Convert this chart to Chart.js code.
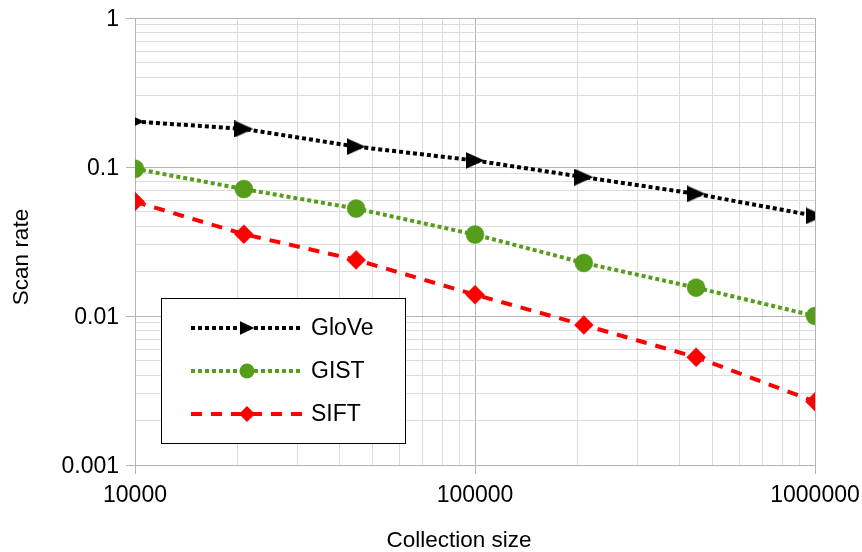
<!DOCTYPE html>
<html>
<head>
<meta charset="utf-8">
<script src="https://cdn.jsdelivr.net/npm/chart.js@4.4.1/dist/chart.umd.min.js"></script>
<style>
  html, body { margin: 0; padding: 0; background: #ffffff; }
  #wrap { width: 862px; height: 552px; }
</style>
</head>
<body>
<div id="wrap"><canvas id="c" width="862" height="552"></canvas></div>
<script>
// Collection sizes (x) and measured scan rates (y) per descriptor set
const collectionSizes = [10000, 20900, 44700, 100000, 209000, 447000, 1000000];
const gloveRates = [0.202, 0.180, 0.137, 0.1106, 0.0855, 0.066, 0.047];
const gistRates  = [0.0973, 0.0711, 0.0526, 0.0352, 0.0227, 0.0155, 0.0100];
const siftRates  = [0.0586, 0.0354, 0.0238, 0.0139, 0.0087, 0.00529, 0.00266];

const seriesNames = ['GloVe', 'GIST', 'SIFT'];
const xTickLabels = ['10000', '100000', '1000000'];
const yTickLabels = ['0.001', '0.01', '0.1', '1'];
const xTitle = 'Collection size';
const yTitle = 'Scan rate';

const FONT = '"Liberation Sans", Arial, sans-serif';
const TICK_SIZE = 23;
const TITLE_SIZE = 22.5;

function toPoints(ys) {
  return collectionSizes.map((x, i) => ({ x: x, y: ys[i] }));
}

function isDecade(v) {
  const l = Math.log10(v);
  return Math.abs(l - Math.round(l)) < 1e-9;
}

// Right-pointing triangle marker, centred in its own small canvas
function triangleMarker(w, h, color) {
  const cv = document.createElement('canvas');
  cv.width = w;
  cv.height = h;
  const g = cv.getContext('2d');
  g.fillStyle = color;
  g.beginPath();
  g.moveTo(0, 0);
  g.lineTo(w, h / 2);
  g.lineTo(0, h);
  g.closePath();
  g.fill();
  return cv;
}

// 1..9 × each decade between min and max, for the log grid
function logGridTicks(scale) {
  const lo = Math.round(Math.log10(scale.min));
  const hi = Math.round(Math.log10(scale.max));
  const ticks = [];
  for (let d = lo; d < hi; d++) {
    for (let m = 1; m <= 9; m++) ticks.push({ value: m * Math.pow(10, d) });
  }
  ticks.push({ value: Math.pow(10, hi) });
  scale.ticks = ticks;
}

function labelFor(list) {
  return function (value) {
    const hit = list.find(s => Math.abs(Number(s) - value) / value < 1e-9);
    return hit === undefined ? '' : hit;
  };
}

const gridOpts = {
  color: c => (c.tick && isDecade(c.tick.value)) ? '#b3b3b3' : '#dddddd',
  tickColor: c => (c.tick && isDecade(c.tick.value)) ? '#b3b3b3' : 'rgba(0,0,0,0)',
  tickLength: 9,
  lineWidth: 1,
  drawTicks: true
};

const legendMarkers = [
  { pointStyle: triangleMarker(15, 14, '#000000'), radius: 7 },
  { pointStyle: 'circle', radius: 7.5 },
  { pointStyle: 'rectRot', radius: 8 }
];

// Axis titles and the boxed legend (line sample + marker + name)
const chartDecor = {
  id: 'chartDecor',
  afterDraw(chart) {
    const ctx = chart.ctx;
    ctx.save();
    ctx.fillStyle = '#000000';
    ctx.font = TITLE_SIZE + 'px ' + FONT;
    ctx.textAlign = 'center';
    ctx.textBaseline = 'middle';
    ctx.fillText(xTitle, 459, 541);
    ctx.translate(22, 257);
    ctx.rotate(-Math.PI / 2);
    ctx.fillText(yTitle, 0, 0);
    ctx.restore();
  },
  afterDatasetsDraw(chart) {
    const ctx = chart.ctx;
    const box = { x: 161.5, y: 298.5, w: 244, h: 145 };
    const rowsY = [328, 371, 414];
    ctx.save();
    ctx.fillStyle = '#ffffff';
    ctx.fillRect(box.x, box.y, box.w, box.h);
    ctx.strokeStyle = '#000000';
    ctx.lineWidth = 1;
    ctx.setLineDash([]);
    ctx.strokeRect(box.x, box.y, box.w, box.h);
    chart.data.datasets.forEach((ds, i) => {
      const y = rowsY[i];
      ctx.beginPath();
      ctx.strokeStyle = ds.borderColor;
      ctx.lineWidth = ds.borderWidth;
      ctx.lineCap = 'butt';
      ctx.setLineDash(ds.borderDash || []);
      ctx.moveTo(191, y);
      ctx.lineTo(302, y);
      ctx.stroke();
      ctx.setLineDash([]);
      ctx.fillStyle = ds.pointBackgroundColor;
      ctx.strokeStyle = ds.pointBorderColor;
      Chart.helpers.drawPoint(ctx, {
        pointStyle: legendMarkers[i].pointStyle,
        radius: legendMarkers[i].radius,
        rotation: 0,
        borderWidth: 0
      }, 247, y);
      ctx.fillStyle = '#000000';
      ctx.font = TICK_SIZE + 'px ' + FONT;
      ctx.textAlign = 'left';
      ctx.textBaseline = 'middle';
      ctx.fillText(ds.label, 311, y + 1);
    });
    ctx.restore();
  }
};

new Chart(document.getElementById('c'), {
  type: 'line',
  data: {
    datasets: [
      {
        label: seriesNames[0],
        data: toPoints(gloveRates),
        borderColor: '#000000',
        backgroundColor: '#000000',
        borderWidth: 4,
        borderDash: [4, 3],
        borderCapStyle: 'butt',
        pointStyle: triangleMarker(19, 17, '#000000'),
        pointRadius: 10,
        pointBackgroundColor: '#000000',
        pointBorderColor: '#000000',
        pointBorderWidth: 0
      },
      {
        label: seriesNames[1],
        data: toPoints(gistRates),
        borderColor: '#579d1c',
        backgroundColor: '#579d1c',
        borderWidth: 4,
        borderDash: [4, 3],
        borderCapStyle: 'butt',
        pointStyle: 'circle',
        pointRadius: 9,
        pointBackgroundColor: '#579d1c',
        pointBorderColor: '#579d1c',
        pointBorderWidth: 0.5
      },
      {
        label: seriesNames[2],
        data: toPoints(siftRates),
        borderColor: '#ff0000',
        backgroundColor: '#ff0000',
        borderWidth: 4,
        borderDash: [11, 9],
        borderCapStyle: 'butt',
        pointStyle: 'rectRot',
        pointRadius: 9.5,
        pointBackgroundColor: '#ff0000',
        pointBorderColor: '#ff0000',
        pointBorderWidth: 0.5
      }
    ]
  },
  options: {
    responsive: false,
    animation: false,
    devicePixelRatio: 1,
    layout: { padding: { left: 0, right: 47, top: 18, bottom: 0 } },
    elements: { line: { tension: 0, fill: false } },
    plugins: { legend: { display: false }, tooltip: { enabled: false } },
    scales: {
      x: {
        type: 'logarithmic',
        position: 'bottom',
        min: 10000,
        max: 1000000,
        afterBuildTicks: logGridTicks,
        afterFit: s => { s.height = 87; s.paddingLeft = 0; s.paddingRight = 0; },
        grid: gridOpts,
        border: { display: true, color: '#b3b3b3', width: 1 },
        ticks: {
          autoSkip: false,
          maxRotation: 0,
          minRotation: 0,
          padding: 8,
          color: '#000000',
          font: { family: FONT, size: TICK_SIZE },
          callback: labelFor(xTickLabels)
        },
        title: { display: false }
      },
      y: {
        type: 'logarithmic',
        position: 'left',
        min: 0.001,
        max: 1,
        afterBuildTicks: logGridTicks,
        afterFit: s => { s.width = 135; s.paddingTop = 0; s.paddingBottom = 0; },
        grid: gridOpts,
        border: { display: true, color: '#b3b3b3', width: 1 },
        ticks: {
          autoSkip: false,
          padding: 7,
          labelOffset: 2,
          color: '#000000',
          font: { family: FONT, size: TICK_SIZE },
          callback: labelFor(yTickLabels)
        },
        title: { display: false }
      }
    }
  },
  plugins: [chartDecor]
});
</script>
</body>
</html>
